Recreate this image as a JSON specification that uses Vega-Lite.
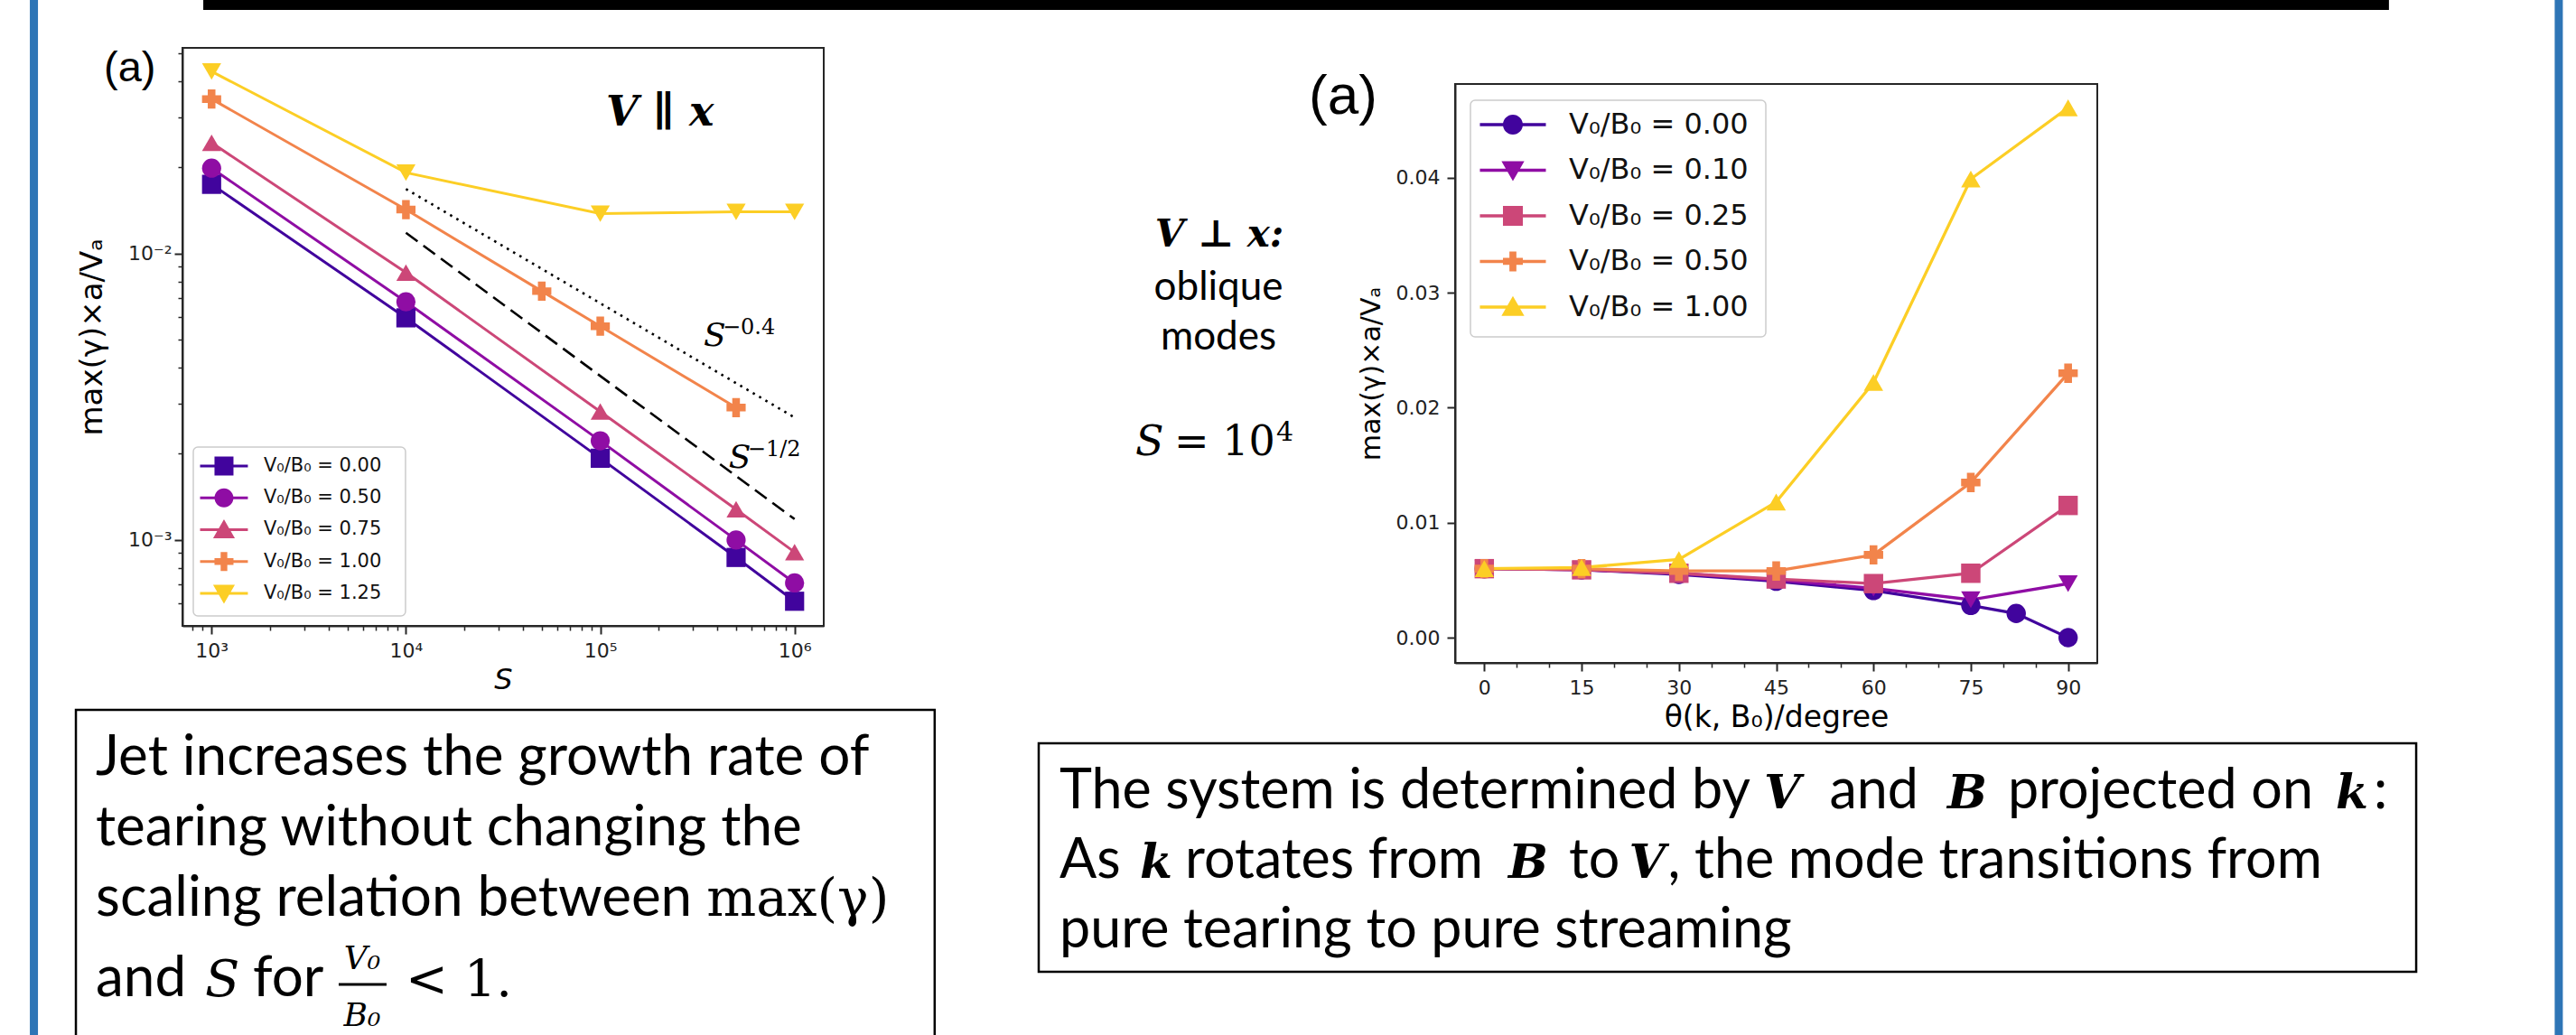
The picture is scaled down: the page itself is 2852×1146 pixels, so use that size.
{
  "$schema": "https://vega.github.io/schema/vega-lite/v6.json",
  "width": 2852,
  "height": 1146,
  "autosize": {"type": "none"},
  "padding": 0,
  "background": "white",
  "config": {
    "view": {"stroke": null},
    "axis": {"grid": false, "domainColor": "#262626", "tickColor": "#262626", "labelColor": "#222222", "titleColor": "#000000", "labelFont": "DejaVu Sans", "titleFont": "DejaVu Sans", "titleFontWeight": "normal", "domainWidth": 2, "tickWidth": 2, "labelOverlap": false, "labelFlush": false}
  },
  "datasets": {
    "parallel": [
      {"V0_B0": "0.00", "S": 1000, "growth": 0.01747},
      {"V0_B0": "0.00", "S": 10000, "growth": 0.00597},
      {"V0_B0": "0.00", "S": 100000, "growth": 0.00193},
      {"V0_B0": "0.00", "S": 500000, "growth": 0.000869},
      {"V0_B0": "0.00", "S": 1000000, "growth": 0.000611},
      {"V0_B0": "0.50", "S": 1000, "growth": 0.0199},
      {"V0_B0": "0.50", "S": 10000, "growth": 0.00679},
      {"V0_B0": "0.50", "S": 100000, "growth": 0.00222},
      {"V0_B0": "0.50", "S": 500000, "growth": 0.001},
      {"V0_B0": "0.50", "S": 1000000, "growth": 0.000708},
      {"V0_B0": "0.75", "S": 1000, "growth": 0.0244},
      {"V0_B0": "0.75", "S": 10000, "growth": 0.00859},
      {"V0_B0": "0.75", "S": 100000, "growth": 0.00281},
      {"V0_B0": "0.75", "S": 500000, "growth": 0.00128},
      {"V0_B0": "0.75", "S": 1000000, "growth": 0.000907},
      {"V0_B0": "1.00", "S": 1000, "growth": 0.0347},
      {"V0_B0": "1.00", "S": 10000, "growth": 0.01426},
      {"V0_B0": "1.00", "S": 50000, "growth": 0.0074},
      {"V0_B0": "1.00", "S": 100000, "growth": 0.00558},
      {"V0_B0": "1.00", "S": 500000, "growth": 0.0029},
      {"V0_B0": "1.25", "S": 1000, "growth": 0.0433},
      {"V0_B0": "1.25", "S": 10000, "growth": 0.0192},
      {"V0_B0": "1.25", "S": 100000, "growth": 0.0138},
      {"V0_B0": "1.25", "S": 500000, "growth": 0.014},
      {"V0_B0": "1.25", "S": 1000000, "growth": 0.014}
    ],
    "scaling": [
      {"law": "S^-0.4", "S": 10000, "growth": 0.01683},
      {"law": "S^-0.4", "S": 1000000, "growth": 0.002678},
      {"law": "S^-1/2", "S": 10000, "growth": 0.01183},
      {"law": "S^-1/2", "S": 1000000, "growth": 0.001183}
    ],
    "perp": [
      {"V0_B0": "0.00", "theta": 0, "growth": 0.006},
      {"V0_B0": "0.00", "theta": 15, "growth": 0.0059},
      {"V0_B0": "0.00", "theta": 30, "growth": 0.0055},
      {"V0_B0": "0.00", "theta": 45, "growth": 0.0049},
      {"V0_B0": "0.00", "theta": 60, "growth": 0.0041},
      {"V0_B0": "0.00", "theta": 75, "growth": 0.0028},
      {"V0_B0": "0.00", "theta": 82, "growth": 0.0021},
      {"V0_B0": "0.00", "theta": 90, "growth": 0.0},
      {"V0_B0": "0.10", "theta": 0, "growth": 0.006},
      {"V0_B0": "0.10", "theta": 15, "growth": 0.0059},
      {"V0_B0": "0.10", "theta": 30, "growth": 0.0056},
      {"V0_B0": "0.10", "theta": 45, "growth": 0.005},
      {"V0_B0": "0.10", "theta": 60, "growth": 0.0043},
      {"V0_B0": "0.10", "theta": 75, "growth": 0.0033},
      {"V0_B0": "0.10", "theta": 90, "growth": 0.0047},
      {"V0_B0": "0.25", "theta": 0, "growth": 0.006},
      {"V0_B0": "0.25", "theta": 15, "growth": 0.0059},
      {"V0_B0": "0.25", "theta": 30, "growth": 0.0056},
      {"V0_B0": "0.25", "theta": 45, "growth": 0.0051},
      {"V0_B0": "0.25", "theta": 60, "growth": 0.0047},
      {"V0_B0": "0.25", "theta": 75, "growth": 0.0056},
      {"V0_B0": "0.25", "theta": 90, "growth": 0.0115},
      {"V0_B0": "0.50", "theta": 0, "growth": 0.006},
      {"V0_B0": "0.50", "theta": 15, "growth": 0.006},
      {"V0_B0": "0.50", "theta": 30, "growth": 0.0058},
      {"V0_B0": "0.50", "theta": 45, "growth": 0.0058},
      {"V0_B0": "0.50", "theta": 60, "growth": 0.0072},
      {"V0_B0": "0.50", "theta": 75, "growth": 0.0135},
      {"V0_B0": "0.50", "theta": 90, "growth": 0.023},
      {"V0_B0": "1.00", "theta": 0, "growth": 0.006},
      {"V0_B0": "1.00", "theta": 15, "growth": 0.0061},
      {"V0_B0": "1.00", "theta": 30, "growth": 0.0068},
      {"V0_B0": "1.00", "theta": 45, "growth": 0.0118},
      {"V0_B0": "1.00", "theta": 60, "growth": 0.0222},
      {"V0_B0": "1.00", "theta": 75, "growth": 0.0399},
      {"V0_B0": "1.00", "theta": 90, "growth": 0.0461}
    ],
    "legend_parallel": [
      {"V0_B0": "0.00", "label": "V₀/B₀ = 0.00"},
      {"V0_B0": "0.50", "label": "V₀/B₀ = 0.50"},
      {"V0_B0": "0.75", "label": "V₀/B₀ = 0.75"},
      {"V0_B0": "1.00", "label": "V₀/B₀ = 1.00"},
      {"V0_B0": "1.25", "label": "V₀/B₀ = 1.25"}
    ],
    "legend_perp": [
      {"V0_B0": "0.00", "label": "V₀/B₀ = 0.00"},
      {"V0_B0": "0.10", "label": "V₀/B₀ = 0.10"},
      {"V0_B0": "0.25", "label": "V₀/B₀ = 0.25"},
      {"V0_B0": "0.50", "label": "V₀/B₀ = 0.50"},
      {"V0_B0": "1.00", "label": "V₀/B₀ = 1.00"}
    ]
  },
  "layer": [
    {
      "layer": [
        {
          "data": {"values": [{}]},
          "mark": {"type": "rect", "fillOpacity": 0, "stroke": "#262626", "strokeWidth": 2},
          "encoding": {
            "x": {"datum": 707.95, "type": "quantitative", "scale": {"type": "log", "domain": [707.95, 1412538], "range": [202, 912], "nice": false}, "axis": {"orient": "bottom", "offset": -453, "values": [800, 900, 2000, 3000, 4000, 5000, 6000, 7000, 8000, 9000, 20000, 30000, 40000, 50000, 60000, 70000, 80000, 90000, 200000, 300000, 400000, 500000, 600000, 700000, 800000, 900000], "labels": false, "domain": false, "tickSize": 5, "tickWidth": 1.5, "title": null}},
            "x2": {"datum": 1412538},
            "y": {"datum": 0.0005012, "type": "quantitative", "scale": {"type": "log", "domain": [0.0005012, 0.05236], "range": [693, 53], "nice": false}, "axis": {"orient": "left", "offset": -202, "values": [0.0006, 0.0007, 0.0008, 0.0009, 0.002, 0.003, 0.004, 0.005, 0.006, 0.007, 0.008, 0.009, 0.02, 0.03, 0.04, 0.05], "labels": false, "domain": false, "tickSize": 5, "tickWidth": 1.5, "title": null}},
            "y2": {"datum": 0.05236}
          }
        },
        {
          "data": {"name": "scaling"},
          "mark": {"type": "line", "color": "black", "strokeWidth": 2.6},
          "encoding": {
            "x": {"field": "S", "type": "quantitative", "scale": {"type": "log", "domain": [707.95, 1412538], "range": [202, 912], "nice": false}, "axis": null},
            "y": {"field": "growth", "type": "quantitative", "scale": {"type": "log", "domain": [0.0005012, 0.05236], "range": [693, 53], "nice": false}, "axis": null},
            "strokeDash": {"field": "law", "type": "nominal", "scale": {"domain": ["S^-0.4", "S^-1/2"], "range": [[2.6, 5.5], [16, 8]]}, "legend": null}
          }
        },
        {
          "data": {"name": "parallel"},
          "mark": {"type": "line", "strokeWidth": 3},
          "encoding": {
            "x": {"field": "S", "type": "quantitative", "scale": {"type": "log", "domain": [707.95, 1412538], "range": [202, 912], "nice": false}, "axis": {"orient": "bottom", "offset": -453, "values": [1000, 10000, 100000, 1000000], "labelExpr": "datum.value < 5000 ? '10³' : datum.value < 50000 ? '10⁴' : datum.value < 500000 ? '10⁵' : '10⁶'", "labelFontSize": 22, "labelPadding": 8, "tickSize": 9, "title": "S", "titleFontStyle": "italic", "titleFontSize": 32, "titlePadding": 6}},
            "y": {"field": "growth", "type": "quantitative", "scale": {"type": "log", "domain": [0.0005012, 0.05236], "range": [693, 53], "nice": false}, "axis": {"orient": "left", "offset": -202, "values": [0.001, 0.01], "labelExpr": "datum.value < 0.005 ? '10⁻³' : '10⁻²'", "labelFontSize": 22, "labelPadding": 3, "tickSize": 9, "title": "max(γ)×a/Vₐ", "titleFontSize": 34, "titlePadding": 22}},
            "color": {"field": "V0_B0", "type": "nominal", "scale": {"domain": ["0.00", "0.50", "0.75", "1.00", "1.25"], "range": ["#41049d", "#8f0da4", "#cc4778", "#f2844b", "#fcce25"]}, "legend": null}
          }
        },
        {
          "data": {"name": "parallel"},
          "mark": {"type": "point", "filled": true, "size": 450, "opacity": 1, "strokeWidth": 0},
          "encoding": {
            "x": {"field": "S", "type": "quantitative", "scale": {"type": "log", "domain": [707.95, 1412538], "range": [202, 912], "nice": false}, "axis": null},
            "y": {"field": "growth", "type": "quantitative", "scale": {"type": "log", "domain": [0.0005012, 0.05236], "range": [693, 53], "nice": false}, "axis": null},
            "color": {"field": "V0_B0", "type": "nominal", "scale": {"domain": ["0.00", "0.50", "0.75", "1.00", "1.25"], "range": ["#41049d", "#8f0da4", "#cc4778", "#f2844b", "#fcce25"]}, "legend": null},
            "shape": {"field": "V0_B0", "type": "nominal", "scale": {"domain": ["0.00", "0.50", "0.75", "1.00", "1.25"], "range": ["square", "circle", "triangle-up", "cross", "triangle-down"]}, "legend": null}
          }
        },
        {
          "data": {"values": [{}]},
          "mark": {"type": "rect", "fill": "white", "fillOpacity": 0.85, "stroke": "#cccccc", "strokeWidth": 1.5, "cornerRadius": 5},
          "encoding": {
            "x": {"datum": 805, "type": "quantitative", "scale": {"type": "log", "domain": [707.95, 1412538], "range": [202, 912], "nice": false}, "axis": null},
            "x2": {"datum": 9949},
            "y": {"datum": 0.002112, "type": "quantitative", "scale": {"type": "log", "domain": [0.0005012, 0.05236], "range": [693, 53], "nice": false}, "axis": null},
            "y2": {"datum": 0.000543}
          }
        },
        {
          "data": {"name": "legend_parallel"},
          "mark": {"type": "point", "filled": true, "size": 441, "opacity": 1, "strokeWidth": 0},
          "encoding": {
            "x": {"datum": 1158, "type": "quantitative", "scale": {"type": "log", "domain": [707.95, 1412538], "range": [202, 912], "nice": false}, "axis": null},
            "y": {"datum": 0.001813, "type": "quantitative", "scale": {"type": "log", "domain": [0.0005012, 0.05236], "range": [693, 53], "nice": false}, "axis": null},
            "yOffset": {"field": "V0_B0", "type": "nominal", "scale": {"type": "point", "domain": ["0.00", "0.50", "0.75", "1.00", "1.25"], "range": [0, 141], "padding": 0}},
            "color": {"field": "V0_B0", "type": "nominal", "scale": {"domain": ["0.00", "0.50", "0.75", "1.00", "1.25"], "range": ["#41049d", "#8f0da4", "#cc4778", "#f2844b", "#fcce25"]}, "legend": null},
            "shape": {"field": "V0_B0", "type": "nominal", "scale": {"domain": ["0.00", "0.50", "0.75", "1.00", "1.25"], "range": [
              "M-2.52,-0.15H2.52V0.15H-2.52Z M-1,-1H1V1H-1Z",
              "M-2.52,-0.15H2.52V0.15H-2.52Z M-1,0A1,1,0,1,1,1,0A1,1,0,1,1,-1,0Z",
              "M-2.52,-0.15H2.52V0.15H-2.52Z M0,-1.1L1.15,0.9H-1.15Z",
              "M-2.52,-0.15H2.52V0.15H-2.52Z M-0.35,-1H0.35V-0.35H1V0.35H0.35V1H-0.35V0.35H-1V-0.35H-0.35Z",
              "M-2.52,-0.15H2.52V0.15H-2.52Z M-1.15,-0.9H1.15L0,1.1Z"]}, "legend": null}
          }
        },
        {
          "data": {"name": "legend_parallel"},
          "mark": {"type": "text", "font": "DejaVu Sans", "fontSize": 21, "align": "left", "baseline": "middle", "color": "#111111"},
          "encoding": {
            "x": {"datum": 1854, "type": "quantitative", "scale": {"type": "log", "domain": [707.95, 1412538], "range": [202, 912], "nice": false}, "axis": null},
            "y": {"datum": 0.001813, "type": "quantitative", "scale": {"type": "log", "domain": [0.0005012, 0.05236], "range": [693, 53], "nice": false}, "axis": null},
            "yOffset": {"field": "V0_B0", "type": "nominal", "scale": {"type": "point", "domain": ["0.00", "0.50", "0.75", "1.00", "1.25"], "range": [0, 141], "padding": 0}},
            "text": {"field": "label"}
          }
        },
        {
          "data": {"values": [{}]},
          "mark": {"type": "text", "text": "(a)", "font": "Liberation Sans", "fontSize": 47, "align": "left", "baseline": "middle", "color": "black"},
          "encoding": {
            "x": {"datum": 279, "type": "quantitative", "scale": {"type": "log", "domain": [707.95, 1412538], "range": [202, 912], "nice": false}, "axis": null},
            "y": {"datum": 0.04429, "type": "quantitative", "scale": {"type": "log", "domain": [0.0005012, 0.05236], "range": [693, 53], "nice": false}, "axis": null}
          }
        },
        {
          "data": {"values": [{}]},
          "mark": {"type": "text", "text": "V ∥ x", "font": "DejaVu Serif", "fontWeight": "bold", "fontStyle": "italic", "fontSize": 46, "align": "center", "baseline": "middle", "color": "black"},
          "encoding": {
            "x": {"datum": 203000, "type": "quantitative", "scale": {"type": "log", "domain": [707.95, 1412538], "range": [202, 912], "nice": false}, "axis": null},
            "y": {"datum": 0.031, "type": "quantitative", "scale": {"type": "log", "domain": [0.0005012, 0.05236], "range": [693, 53], "nice": false}, "axis": null}
          }
        },
        {
          "data": {"values": [{}]},
          "mark": {"type": "text", "text": "S", "font": "DejaVu Serif", "fontStyle": "italic", "fontSize": 36, "align": "left", "baseline": "alphabetic", "color": "black"},
          "encoding": {
            "x": {"datum": 340000, "type": "quantitative", "scale": {"type": "log", "domain": [707.95, 1412538], "range": [202, 912], "nice": false}, "axis": null},
            "y": {"datum": 0.004764, "type": "quantitative", "scale": {"type": "log", "domain": [0.0005012, 0.05236], "range": [693, 53], "nice": false}, "axis": null}
          }
        },
        {
          "data": {"values": [{}]},
          "mark": {"type": "text", "text": "−0.4", "font": "DejaVu Serif", "fontSize": 24, "align": "left", "baseline": "alphabetic", "color": "black"},
          "encoding": {
            "x": {"datum": 426000, "type": "quantitative", "scale": {"type": "log", "domain": [707.95, 1412538], "range": [202, 912], "nice": false}, "axis": null},
            "y": {"datum": 0.005236, "type": "quantitative", "scale": {"type": "log", "domain": [0.0005012, 0.05236], "range": [693, 53], "nice": false}, "axis": null}
          }
        },
        {
          "data": {"values": [{}]},
          "mark": {"type": "text", "text": "S", "font": "DejaVu Serif", "fontStyle": "italic", "fontSize": 36, "align": "left", "baseline": "alphabetic", "color": "black"},
          "encoding": {
            "x": {"datum": 458000, "type": "quantitative", "scale": {"type": "log", "domain": [707.95, 1412538], "range": [202, 912], "nice": false}, "axis": null},
            "y": {"datum": 0.001786, "type": "quantitative", "scale": {"type": "log", "domain": [0.0005012, 0.05236], "range": [693, 53], "nice": false}, "axis": null}
          }
        },
        {
          "data": {"values": [{}]},
          "mark": {"type": "text", "text": "−1/2", "font": "DejaVu Serif", "fontSize": 24, "align": "left", "baseline": "alphabetic", "color": "black"},
          "encoding": {
            "x": {"datum": 574000, "type": "quantitative", "scale": {"type": "log", "domain": [707.95, 1412538], "range": [202, 912], "nice": false}, "axis": null},
            "y": {"datum": 0.001963, "type": "quantitative", "scale": {"type": "log", "domain": [0.0005012, 0.05236], "range": [693, 53], "nice": false}, "axis": null}
          }
        },
        {
          "data": {"values": [{}]},
          "mark": {"type": "rule", "color": "#2e75b6", "strokeWidth": 9},
          "encoding": {
            "x": {"datum": 121.8, "type": "quantitative", "scale": {"type": "log", "domain": [707.95, 1412538], "range": [202, 912], "nice": false}, "axis": null},
            "y": {"datum": 10, "type": "quantitative", "scale": {"type": "log", "domain": [0.0005012, 0.05236], "range": [693, 53], "nice": false}, "axis": null},
            "y2": {"datum": 0.0000001}
          }
        },
        {
          "data": {"values": [{}]},
          "mark": {"type": "rect", "fillOpacity": 0, "stroke": "black", "strokeWidth": 2.5},
          "encoding": {
            "x": {"datum": 200.3, "type": "quantitative", "scale": {"type": "log", "domain": [707.95, 1412538], "range": [202, 912], "nice": false}, "axis": null},
            "x2": {"datum": 5258000},
            "y": {"datum": 0.0002551, "type": "quantitative", "scale": {"type": "log", "domain": [0.0005012, 0.05236], "range": [693, 53], "nice": false}, "axis": null},
            "y2": {"datum": 0.00001686}
          }
        },
        {
          "data": {"values": [{}]},
          "mark": {"type": "text", "text": "Jet increases the growth rate of", "font": "Lato", "fontSize": 62, "align": "left", "baseline": "alphabetic", "color": "black"},
          "encoding": {
            "x": {"datum": 253.5, "type": "quantitative", "scale": {"type": "log", "domain": [707.95, 1412538], "range": [202, 912], "nice": false}, "axis": null},
            "y": {"datum": 0.0001512, "type": "quantitative", "scale": {"type": "log", "domain": [0.0005012, 0.05236], "range": [693, 53], "nice": false}, "axis": null}
          }
        },
        {
          "data": {"values": [{}]},
          "mark": {"type": "text", "text": "tearing without changing the", "font": "Lato", "fontSize": 62, "align": "left", "baseline": "alphabetic", "color": "black"},
          "encoding": {
            "x": {"datum": 253.5, "type": "quantitative", "scale": {"type": "log", "domain": [707.95, 1412538], "range": [202, 912], "nice": false}, "axis": null},
            "y": {"datum": 0.00008582, "type": "quantitative", "scale": {"type": "log", "domain": [0.0005012, 0.05236], "range": [693, 53], "nice": false}, "axis": null}
          }
        },
        {
          "data": {"values": [{}]},
          "mark": {"type": "text", "text": "scaling relation between", "font": "Lato", "fontSize": 62, "align": "left", "baseline": "alphabetic", "color": "black"},
          "encoding": {
            "x": {"datum": 253.5, "type": "quantitative", "scale": {"type": "log", "domain": [707.95, 1412538], "range": [202, 912], "nice": false}, "axis": null},
            "y": {"datum": 0.0000487, "type": "quantitative", "scale": {"type": "log", "domain": [0.0005012, 0.05236], "range": [693, 53], "nice": false}, "axis": null}
          }
        },
        {
          "data": {"values": [{}]},
          "mark": {"type": "text", "text": "max(γ)", "font": "DejaVu Serif", "fontSize": 58, "align": "left", "baseline": "alphabetic", "color": "black"},
          "encoding": {
            "x": {"datum": 352000, "type": "quantitative", "scale": {"type": "log", "domain": [707.95, 1412538], "range": [202, 912], "nice": false}, "axis": null},
            "y": {"datum": 0.0000487, "type": "quantitative", "scale": {"type": "log", "domain": [0.0005012, 0.05236], "range": [693, 53], "nice": false}, "axis": null}
          }
        },
        {
          "data": {"values": [{}]},
          "mark": {"type": "text", "text": "and", "font": "Lato", "fontSize": 62, "align": "left", "baseline": "alphabetic", "color": "black"},
          "encoding": {
            "x": {"datum": 253.5, "type": "quantitative", "scale": {"type": "log", "domain": [707.95, 1412538], "range": [202, 912], "nice": false}, "axis": null},
            "y": {"datum": 0.00002551, "type": "quantitative", "scale": {"type": "log", "domain": [0.0005012, 0.05236], "range": [693, 53], "nice": false}, "axis": null}
          }
        },
        {
          "data": {"values": [{}]},
          "mark": {"type": "text", "text": "S", "font": "DejaVu Serif", "fontStyle": "italic", "fontSize": 56, "align": "left", "baseline": "alphabetic", "color": "black"},
          "encoding": {
            "x": {"datum": 925, "type": "quantitative", "scale": {"type": "log", "domain": [707.95, 1412538], "range": [202, 912], "nice": false}, "axis": null},
            "y": {"datum": 0.00002551, "type": "quantitative", "scale": {"type": "log", "domain": [0.0005012, 0.05236], "range": [693, 53], "nice": false}, "axis": null}
          }
        },
        {
          "data": {"values": [{}]},
          "mark": {"type": "text", "text": "for", "font": "Lato", "fontSize": 62, "align": "left", "baseline": "alphabetic", "color": "black"},
          "encoding": {
            "x": {"datum": 1631, "type": "quantitative", "scale": {"type": "log", "domain": [707.95, 1412538], "range": [202, 912], "nice": false}, "axis": null},
            "y": {"datum": 0.00002551, "type": "quantitative", "scale": {"type": "log", "domain": [0.0005012, 0.05236], "range": [693, 53], "nice": false}, "axis": null}
          }
        },
        {
          "data": {"values": [{}]},
          "mark": {"type": "text", "text": "V₀", "font": "DejaVu Serif", "fontStyle": "italic", "fontSize": 36, "align": "center", "baseline": "alphabetic", "color": "black"},
          "encoding": {
            "x": {"datum": 5953, "type": "quantitative", "scale": {"type": "log", "domain": [707.95, 1412538], "range": [202, 912], "nice": false}, "axis": null},
            "y": {"datum": 0.00003172, "type": "quantitative", "scale": {"type": "log", "domain": [0.0005012, 0.05236], "range": [693, 53], "nice": false}, "axis": null}
          }
        },
        {
          "data": {"values": [{}]},
          "mark": {"type": "rule", "color": "black", "strokeWidth": 3},
          "encoding": {
            "x": {"datum": 4507, "type": "quantitative", "scale": {"type": "log", "domain": [707.95, 1412538], "range": [202, 912], "nice": false}, "axis": null},
            "x2": {"datum": 7948},
            "y": {"datum": 0.00002804, "type": "quantitative", "scale": {"type": "log", "domain": [0.0005012, 0.05236], "range": [693, 53], "nice": false}, "axis": null}
          }
        },
        {
          "data": {"values": [{}]},
          "mark": {"type": "text", "text": "B₀", "font": "DejaVu Serif", "fontStyle": "italic", "fontSize": 36, "align": "center", "baseline": "alphabetic", "color": "black"},
          "encoding": {
            "x": {"datum": 5953, "type": "quantitative", "scale": {"type": "log", "domain": [707.95, 1412538], "range": [202, 912], "nice": false}, "axis": null},
            "y": {"datum": 0.00002007, "type": "quantitative", "scale": {"type": "log", "domain": [0.0005012, 0.05236], "range": [693, 53], "nice": false}, "axis": null}
          }
        },
        {
          "data": {"values": [{}]},
          "mark": {"type": "text", "text": "< 1.", "font": "DejaVu Serif", "fontSize": 56, "align": "left", "baseline": "alphabetic", "color": "black"},
          "encoding": {
            "x": {"datum": 9949, "type": "quantitative", "scale": {"type": "log", "domain": [707.95, 1412538], "range": [202, 912], "nice": false}, "axis": null},
            "y": {"datum": 0.00002551, "type": "quantitative", "scale": {"type": "log", "domain": [0.0005012, 0.05236], "range": [693, 53], "nice": false}, "axis": null}
          }
        }
      ],
      "resolve": {"scale": {"shape": "independent"}, "axis": {"x": "independent", "y": "independent"}}
    },
    {
      "layer": [
        {
          "data": {"values": [{}]},
          "mark": {"type": "rect", "color": "black"},
          "encoding": {
            "x": {"datum": -197.48, "type": "quantitative", "scale": {"type": "linear", "domain": [-4.5, 94.5], "range": [1611, 2322], "nice": false, "zero": false}, "axis": null},
            "x2": {"datum": 139.46},
            "y": {"datum": 0.05548, "type": "quantitative", "scale": {"type": "linear", "domain": [-0.0022, 0.04817], "range": [734, 93], "nice": false, "zero": false}, "axis": null},
            "y2": {"datum": 0.05462}
          }
        },
        {
          "data": {"values": [{}]},
          "mark": {"type": "rule", "color": "#2e75b6", "strokeWidth": 9},
          "encoding": {
            "x": {"datum": 165.64, "type": "quantitative", "scale": {"type": "linear", "domain": [-4.5, 94.5], "range": [1611, 2322], "nice": false, "zero": false}, "axis": null},
            "y": {"datum": 1, "type": "quantitative", "scale": {"type": "linear", "domain": [-0.0022, 0.04817], "range": [734, 93], "nice": false, "zero": false}, "axis": null},
            "y2": {"datum": -1}
          }
        },
        {
          "data": {"values": [{}]},
          "mark": {"type": "rect", "fillOpacity": 0, "stroke": "#262626", "strokeWidth": 2},
          "encoding": {
            "x": {"datum": -4.5, "type": "quantitative", "scale": {"type": "linear", "domain": [-4.5, 94.5], "range": [1611, 2322], "nice": false, "zero": false}, "axis": {"orient": "bottom", "offset": -412, "values": [5, 10, 20, 25, 35, 40, 50, 55, 65, 70, 80, 85], "labels": false, "domain": false, "tickSize": 5, "tickWidth": 1.5, "title": null}},
            "x2": {"datum": 94.5},
            "y": {"datum": -0.0022, "type": "quantitative", "scale": {"type": "linear", "domain": [-0.0022, 0.04817], "range": [734, 93], "nice": false, "zero": false}, "axis": null},
            "y2": {"datum": 0.04817}
          }
        },
        {
          "data": {"name": "perp"},
          "mark": {"type": "line", "strokeWidth": 3.3},
          "encoding": {
            "x": {"field": "theta", "type": "quantitative", "scale": {"type": "linear", "domain": [-4.5, 94.5], "range": [1611, 2322], "nice": false, "zero": false}, "axis": {"orient": "bottom", "offset": -412, "values": [0, 15, 30, 45, 60, 75, 90], "labelFontSize": 22, "labelPadding": 8, "tickSize": 9, "title": "θ(k, B₀)/degree", "titleFontSize": 33, "titlePadding": 6}},
            "y": {"field": "growth", "type": "quantitative", "scale": {"type": "linear", "domain": [-0.0022, 0.04817], "range": [734, 93], "nice": false, "zero": false}, "axis": {"orient": "left", "offset": -1611, "values": [0, 0.01, 0.02, 0.03, 0.04], "format": ".2f", "labelFontSize": 22, "labelPadding": 8, "tickSize": 9, "title": "max(γ)×a/Vₐ", "titleFontSize": 30, "titlePadding": 12}},
            "color": {"field": "V0_B0", "type": "nominal", "scale": {"domain": ["0.00", "0.10", "0.25", "0.50", "1.00"], "range": ["#41049d", "#8f0da4", "#cc4778", "#f2844b", "#fcce25"]}, "legend": null}
          }
        },
        {
          "data": {"name": "perp"},
          "mark": {"type": "point", "filled": true, "size": 460, "opacity": 1, "strokeWidth": 0},
          "encoding": {
            "x": {"field": "theta", "type": "quantitative", "scale": {"type": "linear", "domain": [-4.5, 94.5], "range": [1611, 2322], "nice": false, "zero": false}, "axis": null},
            "y": {"field": "growth", "type": "quantitative", "scale": {"type": "linear", "domain": [-0.0022, 0.04817], "range": [734, 93], "nice": false, "zero": false}, "axis": null},
            "color": {"field": "V0_B0", "type": "nominal", "scale": {"domain": ["0.00", "0.10", "0.25", "0.50", "1.00"], "range": ["#41049d", "#8f0da4", "#cc4778", "#f2844b", "#fcce25"]}, "legend": null},
            "shape": {"field": "V0_B0", "type": "nominal", "scale": {"domain": ["0.00", "0.10", "0.25", "0.50", "1.00"], "range": ["circle", "triangle-down", "square", "cross", "triangle-up"]}, "legend": null}
          }
        },
        {
          "data": {"values": [{}]},
          "mark": {"type": "rect", "fill": "white", "fillOpacity": 0.85, "stroke": "#cccccc", "strokeWidth": 1.5, "cornerRadius": 5},
          "encoding": {
            "x": {"datum": -2.13, "type": "quantitative", "scale": {"type": "linear", "domain": [-4.5, 94.5], "range": [1611, 2322], "nice": false, "zero": false}, "axis": null},
            "x2": {"datum": 43.4},
            "y": {"datum": 0.046758, "type": "quantitative", "scale": {"type": "linear", "domain": [-0.0022, 0.04817], "range": [734, 93], "nice": false, "zero": false}, "axis": null},
            "y2": {"datum": 0.026169}
          }
        },
        {
          "data": {"name": "legend_perp"},
          "mark": {"type": "point", "filled": true, "size": 484, "opacity": 1, "strokeWidth": 0},
          "encoding": {
            "x": {"datum": 4.41, "type": "quantitative", "scale": {"type": "linear", "domain": [-4.5, 94.5], "range": [1611, 2322], "nice": false, "zero": false}, "axis": null},
            "y": {"datum": 0.044637, "type": "quantitative", "scale": {"type": "linear", "domain": [-0.0022, 0.04817], "range": [734, 93], "nice": false, "zero": false}, "axis": null},
            "yOffset": {"field": "V0_B0", "type": "nominal", "scale": {"type": "point", "domain": ["0.00", "0.10", "0.25", "0.50", "1.00"], "range": [0, 202], "padding": 0}},
            "color": {"field": "V0_B0", "type": "nominal", "scale": {"domain": ["0.00", "0.10", "0.25", "0.50", "1.00"], "range": ["#41049d", "#8f0da4", "#cc4778", "#f2844b", "#fcce25"]}, "legend": null},
            "shape": {"field": "V0_B0", "type": "nominal", "scale": {"domain": ["0.00", "0.10", "0.25", "0.50", "1.00"], "range": [
              "M-3.32,-0.16H3.32V0.16H-3.32Z M-1,0A1,1,0,1,1,1,0A1,1,0,1,1,-1,0Z",
              "M-3.32,-0.16H3.32V0.16H-3.32Z M-1.15,-0.9H1.15L0,1.1Z",
              "M-3.32,-0.16H3.32V0.16H-3.32Z M-1,-1H1V1H-1Z",
              "M-3.32,-0.16H3.32V0.16H-3.32Z M-0.35,-1H0.35V-0.35H1V0.35H0.35V1H-0.35V0.35H-1V-0.35H-0.35Z",
              "M-3.32,-0.16H3.32V0.16H-3.32Z M0,-1.1L1.15,0.9H-1.15Z"]}, "legend": null}
          }
        },
        {
          "data": {"name": "legend_perp"},
          "mark": {"type": "text", "font": "DejaVu Sans", "fontSize": 32, "align": "left", "baseline": "middle", "color": "#111111"},
          "encoding": {
            "x": {"datum": 13.05, "type": "quantitative", "scale": {"type": "linear", "domain": [-4.5, 94.5], "range": [1611, 2322], "nice": false, "zero": false}, "axis": null},
            "y": {"datum": 0.044637, "type": "quantitative", "scale": {"type": "linear", "domain": [-0.0022, 0.04817], "range": [734, 93], "nice": false, "zero": false}, "axis": null},
            "yOffset": {"field": "V0_B0", "type": "nominal", "scale": {"type": "point", "domain": ["0.00", "0.10", "0.25", "0.50", "1.00"], "range": [0, 202], "padding": 0}},
            "text": {"field": "label"}
          }
        },
        {
          "data": {"values": [{}]},
          "mark": {"type": "text", "text": "(a)", "font": "Liberation Sans", "fontSize": 62, "align": "left", "baseline": "middle", "color": "black"},
          "encoding": {
            "x": {"datum": -27.05, "type": "quantitative", "scale": {"type": "linear", "domain": [-4.5, 94.5], "range": [1611, 2322], "nice": false, "zero": false}, "axis": null},
            "y": {"datum": 0.04707, "type": "quantitative", "scale": {"type": "linear", "domain": [-0.0022, 0.04817], "range": [734, 93], "nice": false, "zero": false}, "axis": null}
          }
        },
        {
          "data": {"values": [{}]},
          "mark": {"type": "text", "text": "V ⊥ x:", "font": "DejaVu Serif", "fontWeight": "bold", "fontStyle": "italic", "fontSize": 42, "align": "center", "baseline": "middle", "color": "black"},
          "encoding": {
            "x": {"datum": -40.84, "type": "quantitative", "scale": {"type": "linear", "domain": [-4.5, 94.5], "range": [1611, 2322], "nice": false, "zero": false}, "axis": null},
            "y": {"datum": 0.03505, "type": "quantitative", "scale": {"type": "linear", "domain": [-0.0022, 0.04817], "range": [734, 93], "nice": false, "zero": false}, "axis": null}
          }
        },
        {
          "data": {"values": [{}]},
          "mark": {"type": "text", "text": "oblique", "font": "Lato", "fontSize": 44, "align": "center", "baseline": "alphabetic", "color": "black"},
          "encoding": {
            "x": {"datum": -40.98, "type": "quantitative", "scale": {"type": "linear", "domain": [-4.5, 94.5], "range": [1611, 2322], "nice": false, "zero": false}, "axis": null},
            "y": {"datum": 0.02939, "type": "quantitative", "scale": {"type": "linear", "domain": [-0.0022, 0.04817], "range": [734, 93], "nice": false, "zero": false}, "axis": null}
          }
        },
        {
          "data": {"values": [{}]},
          "mark": {"type": "text", "text": "modes", "font": "Lato", "fontSize": 44, "align": "center", "baseline": "alphabetic", "color": "black"},
          "encoding": {
            "x": {"datum": -40.98, "type": "quantitative", "scale": {"type": "linear", "domain": [-4.5, 94.5], "range": [1611, 2322], "nice": false, "zero": false}, "axis": null},
            "y": {"datum": 0.02503, "type": "quantitative", "scale": {"type": "linear", "domain": [-0.0022, 0.04817], "range": [734, 93], "nice": false, "zero": false}, "axis": null}
          }
        },
        {
          "data": {"values": [{}]},
          "mark": {"type": "text", "text": "S", "font": "DejaVu Serif", "fontStyle": "italic", "fontSize": 46, "align": "left", "baseline": "alphabetic", "color": "black"},
          "encoding": {
            "x": {"datum": -53.79, "type": "quantitative", "scale": {"type": "linear", "domain": [-4.5, 94.5], "range": [1611, 2322], "nice": false, "zero": false}, "axis": null},
            "y": {"datum": 0.01587, "type": "quantitative", "scale": {"type": "linear", "domain": [-0.0022, 0.04817], "range": [734, 93], "nice": false, "zero": false}, "axis": null}
          }
        },
        {
          "data": {"values": [{}]},
          "mark": {"type": "text", "text": "= 10", "font": "DejaVu Serif", "fontSize": 46, "align": "left", "baseline": "alphabetic", "color": "black"},
          "encoding": {
            "x": {"datum": -47.8, "type": "quantitative", "scale": {"type": "linear", "domain": [-4.5, 94.5], "range": [1611, 2322], "nice": false, "zero": false}, "axis": null},
            "y": {"datum": 0.01587, "type": "quantitative", "scale": {"type": "linear", "domain": [-0.0022, 0.04817], "range": [734, 93], "nice": false, "zero": false}, "axis": null}
          }
        },
        {
          "data": {"values": [{}]},
          "mark": {"type": "text", "text": "4", "font": "DejaVu Serif", "fontSize": 30, "align": "left", "baseline": "alphabetic", "color": "black"},
          "encoding": {
            "x": {"datum": -32.07, "type": "quantitative", "scale": {"type": "linear", "domain": [-4.5, 94.5], "range": [1611, 2322], "nice": false, "zero": false}, "axis": null},
            "y": {"datum": 0.01713, "type": "quantitative", "scale": {"type": "linear", "domain": [-0.0022, 0.04817], "range": [734, 93], "nice": false, "zero": false}, "axis": null}
          }
        },
        {
          "data": {"values": [{}]},
          "mark": {"type": "rect", "fillOpacity": 0, "stroke": "black", "strokeWidth": 2.5},
          "encoding": {
            "x": {"datum": -68.69, "type": "quantitative", "scale": {"type": "linear", "domain": [-4.5, 94.5], "range": [1611, 2322], "nice": false, "zero": false}, "axis": null},
            "x2": {"datum": 143.66},
            "y": {"datum": -0.009194, "type": "quantitative", "scale": {"type": "linear", "domain": [-0.0022, 0.04817], "range": [734, 93], "nice": false, "zero": false}, "axis": null},
            "y2": {"datum": -0.029077}
          }
        },
        {
          "data": {"values": [{}]},
          "mark": {"type": "text", "text": "The system is determined by", "font": "Lato", "fontSize": 61, "align": "left", "baseline": "alphabetic", "color": "black"},
          "encoding": {
            "x": {"datum": -65.49, "type": "quantitative", "scale": {"type": "linear", "domain": [-4.5, 94.5], "range": [1611, 2322], "nice": false, "zero": false}, "axis": null},
            "y": {"datum": -0.014853, "type": "quantitative", "scale": {"type": "linear", "domain": [-0.0022, 0.04817], "range": [734, 93], "nice": false, "zero": false}, "axis": null}
          }
        },
        {
          "data": {"values": [{}]},
          "mark": {"type": "text", "text": "V", "font": "DejaVu Serif", "fontWeight": "bold", "fontStyle": "italic", "fontSize": 52, "align": "left", "baseline": "alphabetic", "color": "black"},
          "encoding": {
            "x": {"datum": 43.12, "type": "quantitative", "scale": {"type": "linear", "domain": [-4.5, 94.5], "range": [1611, 2322], "nice": false, "zero": false}, "axis": null},
            "y": {"datum": -0.014853, "type": "quantitative", "scale": {"type": "linear", "domain": [-0.0022, 0.04817], "range": [734, 93], "nice": false, "zero": false}, "axis": null}
          }
        },
        {
          "data": {"values": [{}]},
          "mark": {"type": "text", "text": "and", "font": "Lato", "fontSize": 61, "align": "left", "baseline": "alphabetic", "color": "black"},
          "encoding": {
            "x": {"datum": 53.2, "type": "quantitative", "scale": {"type": "linear", "domain": [-4.5, 94.5], "range": [1611, 2322], "nice": false, "zero": false}, "axis": null},
            "y": {"datum": -0.014853, "type": "quantitative", "scale": {"type": "linear", "domain": [-0.0022, 0.04817], "range": [734, 93], "nice": false, "zero": false}, "axis": null}
          }
        },
        {
          "data": {"values": [{}]},
          "mark": {"type": "text", "text": "B", "font": "DejaVu Serif", "fontWeight": "bold", "fontStyle": "italic", "fontSize": 52, "align": "left", "baseline": "alphabetic", "color": "black"},
          "encoding": {
            "x": {"datum": 71.37, "type": "quantitative", "scale": {"type": "linear", "domain": [-4.5, 94.5], "range": [1611, 2322], "nice": false, "zero": false}, "axis": null},
            "y": {"datum": -0.014853, "type": "quantitative", "scale": {"type": "linear", "domain": [-0.0022, 0.04817], "range": [734, 93], "nice": false, "zero": false}, "axis": null}
          }
        },
        {
          "data": {"values": [{}]},
          "mark": {"type": "text", "text": "projected on", "font": "Lato", "fontSize": 61, "align": "left", "baseline": "alphabetic", "color": "black"},
          "encoding": {
            "x": {"datum": 80.7, "type": "quantitative", "scale": {"type": "linear", "domain": [-4.5, 94.5], "range": [1611, 2322], "nice": false, "zero": false}, "axis": null},
            "y": {"datum": -0.014853, "type": "quantitative", "scale": {"type": "linear", "domain": [-0.0022, 0.04817], "range": [734, 93], "nice": false, "zero": false}, "axis": null}
          }
        },
        {
          "data": {"values": [{}]},
          "mark": {"type": "text", "text": "k", "font": "DejaVu Serif", "fontWeight": "bold", "fontStyle": "italic", "fontSize": 52, "align": "left", "baseline": "alphabetic", "color": "black"},
          "encoding": {
            "x": {"datum": 131.25, "type": "quantitative", "scale": {"type": "linear", "domain": [-4.5, 94.5], "range": [1611, 2322], "nice": false, "zero": false}, "axis": null},
            "y": {"datum": -0.014853, "type": "quantitative", "scale": {"type": "linear", "domain": [-0.0022, 0.04817], "range": [734, 93], "nice": false, "zero": false}, "axis": null}
          }
        },
        {
          "data": {"values": [{}]},
          "mark": {"type": "text", "text": ":", "font": "Lato", "fontSize": 61, "align": "left", "baseline": "alphabetic", "color": "black"},
          "encoding": {
            "x": {"datum": 137.1, "type": "quantitative", "scale": {"type": "linear", "domain": [-4.5, 94.5], "range": [1611, 2322], "nice": false, "zero": false}, "axis": null},
            "y": {"datum": -0.014853, "type": "quantitative", "scale": {"type": "linear", "domain": [-0.0022, 0.04817], "range": [734, 93], "nice": false, "zero": false}, "axis": null}
          }
        },
        {
          "data": {"values": [{}]},
          "mark": {"type": "text", "text": "As", "font": "Lato", "fontSize": 61, "align": "left", "baseline": "alphabetic", "color": "black"},
          "encoding": {
            "x": {"datum": -65.49, "type": "quantitative", "scale": {"type": "linear", "domain": [-4.5, 94.5], "range": [1611, 2322], "nice": false, "zero": false}, "axis": null},
            "y": {"datum": -0.020904, "type": "quantitative", "scale": {"type": "linear", "domain": [-0.0022, 0.04817], "range": [734, 93], "nice": false, "zero": false}, "axis": null}
          }
        },
        {
          "data": {"values": [{}]},
          "mark": {"type": "text", "text": "k", "font": "DejaVu Serif", "fontWeight": "bold", "fontStyle": "italic", "fontSize": 52, "align": "left", "baseline": "alphabetic", "color": "black"},
          "encoding": {
            "x": {"datum": -53.08, "type": "quantitative", "scale": {"type": "linear", "domain": [-4.5, 94.5], "range": [1611, 2322], "nice": false, "zero": false}, "axis": null},
            "y": {"datum": -0.020904, "type": "quantitative", "scale": {"type": "linear", "domain": [-0.0022, 0.04817], "range": [734, 93], "nice": false, "zero": false}, "axis": null}
          }
        },
        {
          "data": {"values": [{}]},
          "mark": {"type": "text", "text": "rotates from", "font": "Lato", "fontSize": 61, "align": "left", "baseline": "alphabetic", "color": "black"},
          "encoding": {
            "x": {"datum": -46.12, "type": "quantitative", "scale": {"type": "linear", "domain": [-4.5, 94.5], "range": [1611, 2322], "nice": false, "zero": false}, "axis": null},
            "y": {"datum": -0.020904, "type": "quantitative", "scale": {"type": "linear", "domain": [-0.0022, 0.04817], "range": [734, 93], "nice": false, "zero": false}, "axis": null}
          }
        },
        {
          "data": {"values": [{}]},
          "mark": {"type": "text", "text": "B", "font": "DejaVu Serif", "fontWeight": "bold", "fontStyle": "italic", "fontSize": 52, "align": "left", "baseline": "alphabetic", "color": "black"},
          "encoding": {
            "x": {"datum": 3.72, "type": "quantitative", "scale": {"type": "linear", "domain": [-4.5, 94.5], "range": [1611, 2322], "nice": false, "zero": false}, "axis": null},
            "y": {"datum": -0.020904, "type": "quantitative", "scale": {"type": "linear", "domain": [-0.0022, 0.04817], "range": [734, 93], "nice": false, "zero": false}, "axis": null}
          }
        },
        {
          "data": {"values": [{}]},
          "mark": {"type": "text", "text": "to", "font": "Lato", "fontSize": 61, "align": "left", "baseline": "alphabetic", "color": "black"},
          "encoding": {
            "x": {"datum": 13.05, "type": "quantitative", "scale": {"type": "linear", "domain": [-4.5, 94.5], "range": [1611, 2322], "nice": false, "zero": false}, "axis": null},
            "y": {"datum": -0.020904, "type": "quantitative", "scale": {"type": "linear", "domain": [-0.0022, 0.04817], "range": [734, 93], "nice": false, "zero": false}, "axis": null}
          }
        },
        {
          "data": {"values": [{}]},
          "mark": {"type": "text", "text": "V", "font": "DejaVu Serif", "fontWeight": "bold", "fontStyle": "italic", "fontSize": 52, "align": "left", "baseline": "alphabetic", "color": "black"},
          "encoding": {
            "x": {"datum": 22.3, "type": "quantitative", "scale": {"type": "linear", "domain": [-4.5, 94.5], "range": [1611, 2322], "nice": false, "zero": false}, "axis": null},
            "y": {"datum": -0.020904, "type": "quantitative", "scale": {"type": "linear", "domain": [-0.0022, 0.04817], "range": [734, 93], "nice": false, "zero": false}, "axis": null}
          }
        },
        {
          "data": {"values": [{}]},
          "mark": {"type": "text", "text": ", the mode transitions from", "font": "Lato", "fontSize": 61, "align": "left", "baseline": "alphabetic", "color": "black"},
          "encoding": {
            "x": {"datum": 28.3, "type": "quantitative", "scale": {"type": "linear", "domain": [-4.5, 94.5], "range": [1611, 2322], "nice": false, "zero": false}, "axis": null},
            "y": {"datum": -0.020904, "type": "quantitative", "scale": {"type": "linear", "domain": [-0.0022, 0.04817], "range": [734, 93], "nice": false, "zero": false}, "axis": null}
          }
        },
        {
          "data": {"values": [{}]},
          "mark": {"type": "text", "text": "pure tearing to pure streaming", "font": "Lato", "fontSize": 61, "align": "left", "baseline": "alphabetic", "color": "black"},
          "encoding": {
            "x": {"datum": -65.49, "type": "quantitative", "scale": {"type": "linear", "domain": [-4.5, 94.5], "range": [1611, 2322], "nice": false, "zero": false}, "axis": null},
            "y": {"datum": -0.026955, "type": "quantitative", "scale": {"type": "linear", "domain": [-0.0022, 0.04817], "range": [734, 93], "nice": false, "zero": false}, "axis": null}
          }
        }
      ],
      "resolve": {"scale": {"shape": "independent"}, "axis": {"x": "independent", "y": "independent"}}
    }
  ],
  "resolve": {
    "scale": {"x": "independent", "y": "independent", "color": "independent", "shape": "independent", "yOffset": "independent"},
    "axis": {"x": "independent", "y": "independent"}
  }
}
